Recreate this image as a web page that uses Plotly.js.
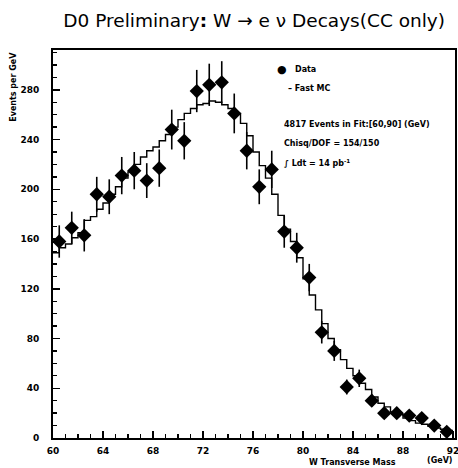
<!DOCTYPE html>
<html>
<head>
<meta charset="utf-8">
<script src="https://cdn.plot.ly/plotly-3.0.1.min.js"></script>
<style>html,body{margin:0;padding:0;background:#fff;}#plot{width:458px;height:468px;}</style>
</head>
<body>
<div id="plot"></div>
<script>
// Data points (1 GeV bins), W transverse mass
const massBins = [60.5,61.5,62.5,63.5,64.5,65.5,66.5,67.5,68.5,69.5,70.5,71.5,72.5,73.5,74.5,75.5,
                  76.5,77.5,78.5,79.5,80.5,81.5,82.5,83.5,84.5,85.5,86.5,87.5,88.5,89.5,90.5,91.5];
const dataEvents = [158,169,163,196,194,211,215,207,217,248,239,279,284,286,261,231,
                    202,216,166,153,129,85,70,41,48,30,20,20,18,16,10,5];
const dataErrors = [13,13,13,14,14,15,15,14,15,16,15,17,17,17,16,15,
                    14,15,13,12,11,9,8,6,7,5,4,4,4,4,3,2];
// Fast MC histogram (0.5 GeV bins starting at 60 GeV)
const mcLow = 60, mcWidth = 0.5;
const mcEvents = [149,153,156,161,165,175,178,184,189,196,202,209,214,220,226,231,
                  234,239,244,250,256,261,265,268,269,271,270,268,265,261,253,243,
                  230,219,209,196,179,168,158,145,128,115,103,92,80,71,63,56,
                  50,44,39,33,28,25,21,19,16,14,12,11,9.5,8,7,6];
const xTickVals = [60,64,68,72,76,80,84,88,92];
const yTickVals = [0,40,80,120,160,200,240,280];

const mcX = mcEvents.map((v,i)=>mcLow + i*mcWidth);
mcX.push(mcLow + mcEvents.length*mcWidth);
const mcY = mcEvents.slice(); mcY.push(mcEvents[mcEvents.length-1]);

const tickFont = {family:'DejaVu Sans', size:9, color:'#000', weight:'bold'};
const smallFont = {family:'DejaVu Sans', size:8, color:'#000', weight:'bold'};

const traces = [
  {x: mcX, y: mcY, type:'scatter', mode:'lines', line:{shape:'hv', color:'#000', width:1.4},
   hoverinfo:'skip', cliponaxis:true},
  {x: massBins, y: dataEvents, type:'scatter', mode:'markers',
   marker:{symbol:'diamond', size:11, color:'#000'},
   error_y:{type:'data', array:dataErrors, visible:true, color:'#000', thickness:1.6, width:0}}
];

const layout = {
  width:458, height:468,
  margin:{l:53, r:3, t:50, b:30},
  paper_bgcolor:'#fff', plot_bgcolor:'#fff',
  showlegend:false,
  title:{text:'D0 Preliminary<b>:</b> W → e ν Decays(CC only)',
         font:{family:'DejaVu Sans', size:18.5, color:'#000'},
         xref:'container', yref:'container', x:0.555, y:0.957, xanchor:'center', yanchor:'middle'},
  xaxis:{range:[60,92.16], tickvals:xTickVals, ticks:'inside', ticklen:7, tickwidth:1.5, tickcolor:'#000',
         showgrid:false, zeroline:false, showline:true, linewidth:2, linecolor:'#000', mirror:true,
         tickfont:tickFont, ticklabelstandoff:3, ticklabeloverflow:'allow',
         minor:{dtick:1, ticks:'inside', ticklen:4, tickwidth:1.3, tickcolor:'#000', showgrid:false}},
  yaxis:{range:[0,312], tickvals:yTickVals, ticks:'inside', ticklen:7, tickwidth:1.5, tickcolor:'#000',
         showgrid:false, zeroline:false, showline:true, linewidth:2, linecolor:'#000', mirror:true,
         tickfont:tickFont, ticklabelstandoff:10,
         minor:{dtick:10, ticks:'inside', ticklen:4, tickwidth:1.3, tickcolor:'#000', showgrid:false}},
  annotations:[
    {text:'Events per GeV', textangle:-90, xref:'paper', yref:'paper', x:-0.1, y:1.0,
     xanchor:'center', yanchor:'top', showarrow:false, font:smallFont},
    {text:'W Transverse Mass', xref:'paper', yref:'paper', x:0.746, y:-0.047,
     xanchor:'center', yanchor:'top', showarrow:false, font:smallFont},
    {text:'(GeV)', xref:'paper', yref:'paper', x:0.963, y:-0.042,
     xanchor:'center', yanchor:'top', showarrow:false, font:smallFont},
    {text:'●', xref:'paper', yref:'paper', x:0.57, y:0.95, xanchor:'center', yanchor:'middle',
     showarrow:false, font:{family:'DejaVu Sans', size:11, color:'#000'}},
    {text:'Data', xref:'paper', yref:'paper', x:0.597, y:0.95, xanchor:'left', yanchor:'middle',
     showarrow:false, font:smallFont},
    {text:'– Fast MC', xref:'paper', yref:'paper', x:0.58, y:0.9, xanchor:'left', yanchor:'middle',
     showarrow:false, font:smallFont},
    {text:'4817 Events in Fit:[60,90] (GeV)', xref:'paper', yref:'paper', x:0.57, y:0.809, xanchor:'left', yanchor:'middle',
     showarrow:false, font:smallFont},
    {text:'Chisq/DOF = 154/150', xref:'paper', yref:'paper', x:0.57, y:0.758, xanchor:'left', yanchor:'middle',
     showarrow:false, font:smallFont},
    {text:'∫ Ldt = 14 pb<sup>-1</sup>', xref:'paper', yref:'paper', x:0.57, y:0.71, xanchor:'left', yanchor:'middle',
     showarrow:false, font:smallFont}
  ]
};

Plotly.newPlot('plot', traces, layout, {staticPlot:true, displayModeBar:false});
</script>
</body>
</html>
